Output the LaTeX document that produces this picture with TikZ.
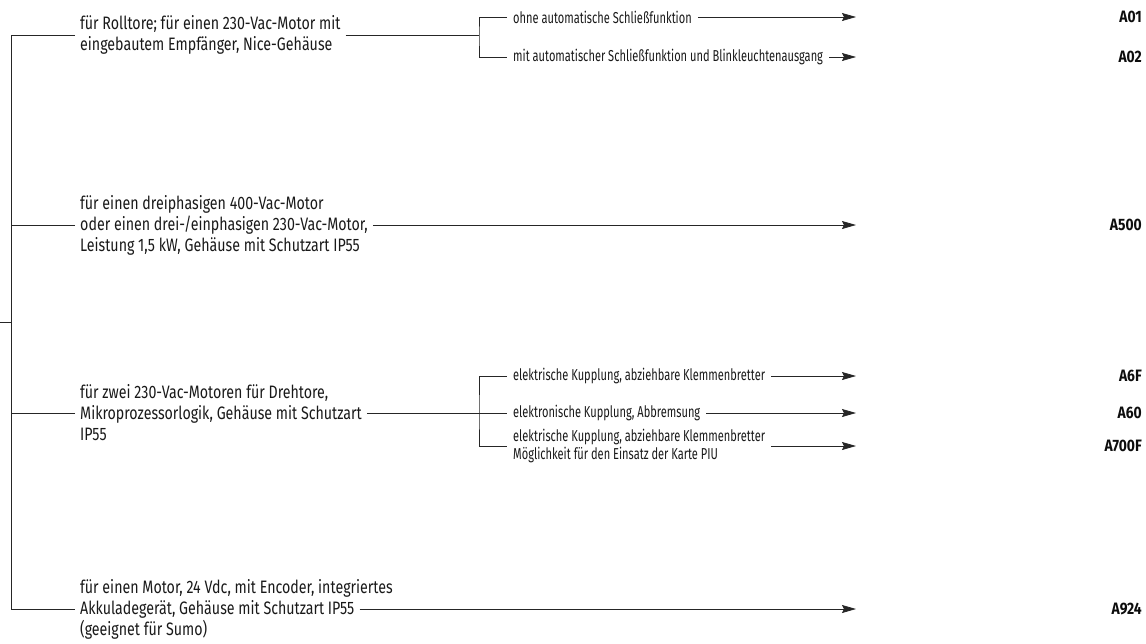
\documentclass[tikz,border=0pt]{standalone}
\usepackage{fontspec}
\setmainfont{Fira Sans}[FakeStretch=0.70]
\newfontfamily\bigf{Fira Sans}[FakeStretch=0.79]
\newfontfamily\lblf{Fira Sans}[FakeStretch=0.84]
\usetikzlibrary{arrows.meta}
\newcommand{\fsx}{\bigf\fontsize{18}{21}\selectfont}
\newcommand{\fsy}{\fontsize{15.8}{18}\selectfont}
\newcommand{\lbx}{\lblf\fontsize{16.5}{18}\selectfont\bfseries}
\begin{document}
\begin{tikzpicture}[x=1pt,y=-1pt,
  ln/.style={line width=0.8pt, draw=black!85},
  arr/.style={ln,-{Stealth[length=14pt,width=8pt,inset=2pt]}},
  txt/.style={anchor=west, inner xsep=5pt, inner ysep=0pt, align=left, font=\fsx, text=black!90},
  sub/.style={anchor=west, inner xsep=6pt, inner ysep=0pt, align=left, font=\fsy, text=black!90},
  lbl/.style={anchor=east, inner sep=0pt, font=\lbx, text=black!95}]
\useasboundingbox (0,0) rectangle (1146,643);
\coordinate (tipx) at (856,0);
\coordinate (vtop) at (11,35);
\coordinate (vbot) at (11,609);
\coordinate (stub) at (0,322);
\coordinate (s1) at (479,35);
\coordinate (s3) at (479,413);

% branch 1
\node[txt] (b1) at (75,35) {für Rolltore; für einen 230-Vac-Motor mit\\eingebautem Empfänger, Nice-Gehäuse};
\node[sub] (o1) at (507,17) {ohne automatische Schließfunktion};
\node[sub] (o2) at (507,57) {mit automatischer Schließfunktion und Blinkleuchtenausgang};
\node[lbl] (A01) at (1142,17) {A01};
\node[lbl] (A02) at (1142,57) {A02};

% branch 2
\node[txt] (b2) at (75,225) {für einen dreiphasigen 400-Vac-Motor\\oder einen drei-/einphasigen 230-Vac-Motor,\\Leistung 1,5 kW, Gehäuse mit Schutzart IP55};
\node[lbl] (A500) at (1142,225) {A500};

% branch 3
\node[txt] (b3) at (75,413) {für zwei 230-Vac-Motoren für Drehtore,\\Mikroprozessorlogik, Gehäuse mit Schutzart\\IP55};
\node[sub] (p1) at (507,376) {elektrische Kupplung, abziehbare Klemmenbretter};
\node[sub] (p2) at (507,413) {elektronische Kupplung, Abbremsung};
\node[sub] (p3) at (507,446) {elektrische Kupplung, abziehbare Klemmenbretter\\Möglichkeit für den Einsatz der Karte PIU};
\node[lbl] (A6F) at (1142,376) {A6F};
\node[lbl] (A60) at (1142,413) {A60};
\node[lbl] (A700F) at (1142,446) {A700F};

% branch 4
\node[txt] (b4a) at (75,588) {für einen Motor, 24 Vdc, mit Encoder, integriertes};
\node[txt] (b4b) at (75,609) {Akkuladegerät, Gehäuse mit Schutzart IP55};
\node[txt] (b4c) at (75,630) {(geeignet für Sumo)};
\node[lbl] (A924) at (1142,609) {A924};

% trunk
\draw[ln] (b1.west |- vtop) -- (vtop) -- (vbot) -- (b4b.west);
\draw[ln] (b2.west) -- (b2.west -| vtop);
\draw[ln] (b3.west |- s3) -- (s3 -| vtop);
\draw[ln] (stub) -- (stub -| vtop);

% sub-branches
\draw[ln] (b1.east |- s1) -- (s1);
\draw[ln] (o1.west) -| (s1) |- (o2.west);
\draw[ln] (b3.east |- s3) -- (p2.west);
\draw[ln] (p1.west) -| (s3) |- (p3.west);

% arrows
\draw[arr] (o1.east) -- (o1.east -| tipx);
\draw[arr] (o2.east) -- (o2.east -| tipx);
\draw[arr] (b2.east) -- (b2.east -| tipx);
\draw[arr] (p1.east) -- (p1.east -| tipx);
\draw[arr] (p2.east) -- (p2.east -| tipx);
\draw[arr] (p3.east) -- (p3.east -| tipx);
\draw[arr] (b4b.east) -- (b4b.east -| tipx);
\end{tikzpicture}
\end{document}
